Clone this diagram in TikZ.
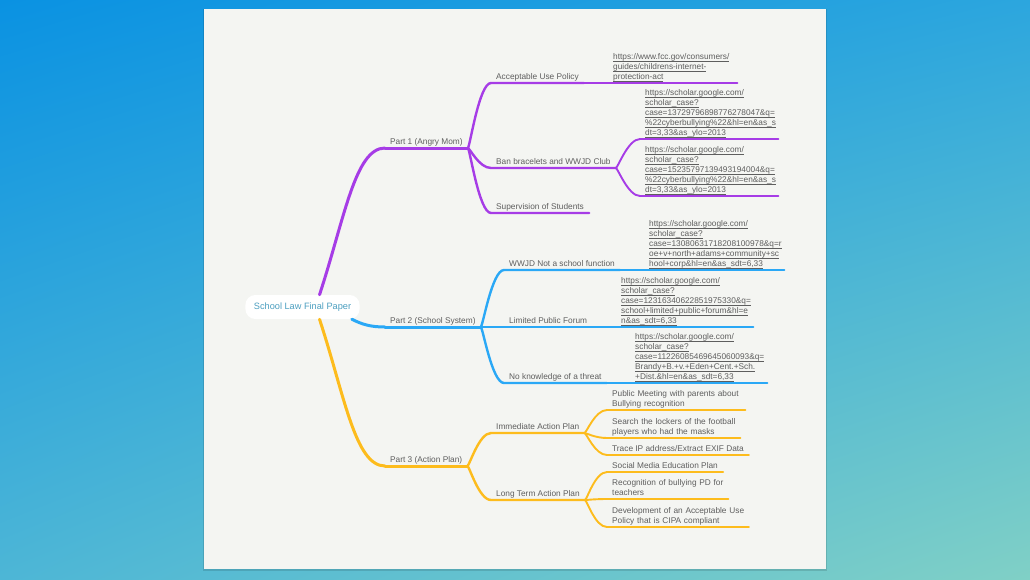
\documentclass[tikz,border=0pt]{standalone}
\usepackage{fontspec}
\setmainfont{Liberation Sans}
\usetikzlibrary{shadings}
\definecolor{mompurple}{HTML}{A63CE6}
\definecolor{sysblue}{HTML}{2AA8F6}
\definecolor{planorange}{HTML}{FDBC1D}
\definecolor{inkgray}{HTML}{5E5E5E}
\definecolor{rootteal}{HTML}{4C9FC0}
\definecolor{sheet}{HTML}{F4F5F2}
\definecolor{bgA}{HTML}{0A92E2}
\definecolor{bgB}{HTML}{2CA6DE}
\definecolor{bgC}{HTML}{4DB6D6}
\definecolor{bgD}{HTML}{80D0C6}
\hyphenpenalty=10000
\exhyphenpenalty=10000
\newcommand\mapfont{\fontsize{8.3}{10}\selectfont\lineskiplimit=-10pt}
\newcommand\urlline[1]{\underline{\smash{#1}\rule[-0.6pt]{0pt}{0pt}}}
\newcommand\row[1]{\mbox{#1}}
\tikzstyle{topic} = [anchor=south west, inner xsep=5pt, inner ysep=0.5pt, align=left, text=inkgray, font=\mapfont, execute at end node=\strut]
\tikzstyle{hub} = [fill=white, rounded corners=10pt, text=rootteal, font=\fontsize{9.2}{11}\selectfont, inner xsep=8.5pt, minimum height=24pt]
\tikzstyle{trunk} = [draw, line width=3pt, line cap=round]
\tikzstyle{twig} = [draw, line width=2.4pt, line cap=round]
\tikzstyle{leafline} = [draw, line width=1.9pt, line cap=round]
\tikzstyle{mapcurve} = [to path={.. controls ([xshift=2pt]\tikztostart) and ([xshift=-12pt]\tikztotarget) .. (\tikztotarget) \tikztonodes}]

\begin{document}
\begin{tikzpicture}[x=1pt, y=-1pt]
        \useasboundingbox (0,0) rectangle (1030,579);
        \shade[upper left=bgA, upper right=bgB, lower left=bgC, lower right=bgD] (0,0) rectangle (1030,579);
        \fill[black, opacity=0.12] (203,9) rectangle (827,571);
        \fill[sheet] (204,9) rectangle (826,569);

        \node[hub] (core) at (302.5,307) {School Law Final Paper};
        \node[topic] (mom) at (385,148) {Part 1 (Angry Mom)};
        \node[topic] (system) at (385,327) {Part 2 (School System)};
        \node[topic] (plan) at (385,466) {Part 3 (Action Plan)};

        \node[topic] (aup) at (491,83) {Acceptable Use Policy};
        \node[topic, text width=119pt] (fcc) at (608,83) {\urlline{https://www.fcc.gov/consumers/}\\\urlline{guides/childrens-internet-}\\\urlline{protection-act}};
        \node[topic] (ban) at (491,168) {Ban bracelets and WWJD Club};
        \node[topic, text width=128pt] (caseA) at (640,139) {\urlline{https://scholar.google.com/}\\\urlline{scholar\_case?}\\\urlline{case=13729796898776278047\&q=}\\\urlline{\%22cyberbullying\%22\&hl=en\&as\_s}\\\urlline{dt=3,33\&as\_ylo=2013}};
        \node[topic, text width=128pt] (caseB) at (640,196) {\urlline{https://scholar.google.com/}\\\urlline{scholar\_case?}\\\urlline{case=15235797139493194004\&q=}\\\urlline{\%22cyberbullying\%22\&hl=en\&as\_s}\\\urlline{dt=3,33\&as\_ylo=2013}};
        \node[topic] (watch) at (491,213) {Supervision of Students};

        \node[topic] (wwjd) at (504,270) {WWJD Not a school function};
        \node[topic, text width=130pt] (caseC) at (644,270) {\urlline{https://scholar.google.com/}\\\urlline{scholar\_case?}\\\urlline{case=13080631718208100978\&q=r}\\\urlline{oe+v+north+adams+community+sc}\\\urlline{hool+corp\&hl=en\&as\_sdt=6,33}};
        \node[topic] (forum) at (504,327) {Limited Public Forum};
        \node[topic, text width=127pt] (caseD) at (616,327) {\urlline{https://scholar.google.com/}\\\urlline{scholar\_case?}\\\urlline{case=12316340622851975330\&q=}\\\urlline{school+limited+public+forum\&hl=e}\\\urlline{n\&as\_sdt=6,33}};
        \node[topic] (threat) at (504,383) {No knowledge of a threat};
        \node[topic, text width=127pt] (caseE) at (630,383) {\urlline{https://scholar.google.com/}\\\urlline{scholar\_case?}\\\urlline{case=11226085469645060093\&q=}\\\urlline{Brandy+B.+v.+Eden+Cent.+Sch.}\\\urlline{+Dist.\&hl=en\&as\_sdt=6,33}};

        \node[topic] (now) at (491,433) {Immediate Action Plan};
        \node[topic, text width=128pt] (meet) at (607,410) {\row{Public Meeting with parents about}\\Bullying recognition};
        \node[topic, text width=123pt] (lockers) at (607,438) {\row{Search the lockers of the football}\\players who had the masks};
        \node[topic] (trace) at (607,455) {Trace IP address/Extract EXIF Data};
        \node[topic] (later) at (491,500) {Long Term Action Plan};
        \node[topic] (social) at (607,472) {Social Media Education Plan};
        \node[topic, text width=111pt] (pd) at (607,499) {\row{Recognition of bullying PD for}\\teachers};
        \node[topic, text width=131.5pt] (cipa) at (607,527) {\row{Development of an Acceptable Use}\\Policy that is CIPA compliant};

        \path[trunk, mompurple] ([xshift=17pt]core.north) .. controls +(25,-76) and +(-30,0) .. (mom.south west);
        \path[trunk, sysblue] ([xshift=-8pt]core.south east) .. controls +(10,5) and +(-15,0) .. (system.south west);
        \path[trunk, planorange] ([xshift=17pt]core.south) .. controls +(25,76) and +(-30,0) .. (plan.south west);
        \path[trunk, mompurple] (mom.south west) -- (mom.south east);
        \path[trunk, sysblue] (system.south west) -- (system.south east);
        \path[trunk, planorange] (plan.south west) -- (plan.south east);

        \path[twig, mompurple] (mom.south east) to[mapcurve] (aup.south west) -- (aup.south east);
        \path[twig, mompurple] (mom.south east) to[mapcurve] (ban.south west) -- (ban.south east);
        \path[twig, mompurple] (mom.south east) to[mapcurve] (watch.south west) -- (watch.south east);
        \path[leafline, mompurple] (aup.south east) -- (fcc.south west) -- (fcc.south east);
        \path[leafline, mompurple] (ban.south east) to[mapcurve] (caseA.south west) -- (caseA.south east);
        \path[leafline, mompurple] (ban.south east) to[mapcurve] (caseB.south west) -- (caseB.south east);

        \path[twig, sysblue] (system.south east) to[mapcurve] (wwjd.south west) -- (wwjd.south east);
        \path[twig, sysblue] (system.south east) -- (forum.south west) -- (forum.south east);
        \path[twig, sysblue] (system.south east) to[mapcurve] (threat.south west) -- (threat.south east);
        \path[leafline, sysblue] (wwjd.south east) -- (caseC.south west) -- (caseC.south east);
        \path[leafline, sysblue] (forum.south east) -- (caseD.south west) -- (caseD.south east);
        \path[leafline, sysblue] (threat.south east) -- (caseE.south west) -- (caseE.south east);

        \path[twig, planorange] (plan.south east) to[mapcurve] (now.south west) -- (now.south east);
        \path[twig, planorange] (plan.south east) to[mapcurve] (later.south west) -- (later.south east);
        \path[leafline, planorange] (now.south east) to[mapcurve] (meet.south west) -- (meet.south east);
        \path[leafline, planorange] (now.south east) to[mapcurve] (lockers.south west) -- (lockers.south east);
        \path[leafline, planorange] (now.south east) to[mapcurve] (trace.south west) -- (trace.south east);
        \path[leafline, planorange] (later.south east) to[mapcurve] (social.south west) -- (social.south east);
        \path[leafline, planorange] (later.south east) to[mapcurve] (pd.south west) -- (pd.south east);
        \path[leafline, planorange] (later.south east) to[mapcurve] (cipa.south west) -- (cipa.south east);
    \end{tikzpicture}
\end{document}
